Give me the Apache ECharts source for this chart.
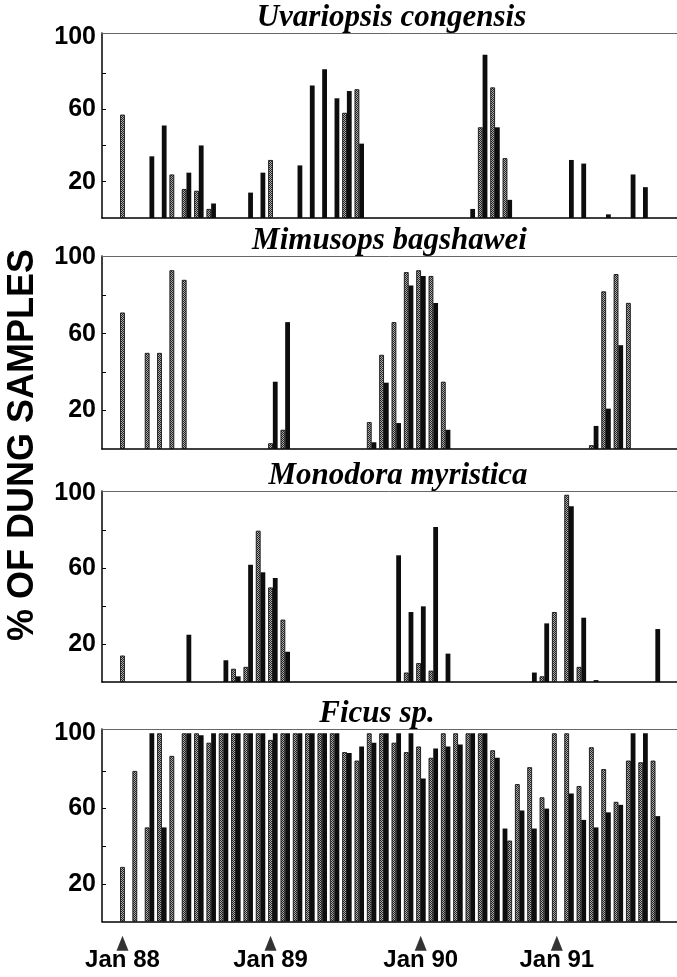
<!DOCTYPE html>
<html><head><meta charset="utf-8">
<script src="https://cdn.jsdelivr.net/npm/echarts@6/dist/echarts.min.js"></script>
<style>html,body{margin:0;padding:0;background:#fff}#c{width:677px;height:977px}</style>
</head><body><div id="c"></div>
<script>
// ---- DATA (x = month index, 0 = Jan 88; value = % of dung samples) ----
const uvaGray  = [[0,57],[4,24],[5,16],[6,15],[7,5],[12,32],[18,58],[19,71],[29,50],[30,72],[31,33]];
const uvaBlack = [[2,34],[3,51],[5,25],[6,40],[7,8],[10,14],[11,25],[14,29],[15,73],[16,82],[17,66],[18,70],[19,41],[28,5],[29,90],[30,50],[31,10],[36,32],[37,30],[39,2],[41,24],[42,17]];

const mimGray  = [[0,71],[2,50],[3,50],[4,93],[5,88],[12,3],[13,10],[20,14],[21,49],[22,66],[23,92],[24,93],[25,90],[26,35],[38,2],[39,82],[40,91],[41,76]];
const mimBlack = [[12,35],[13,66],[20,3.5],[21,34.5],[22,13.5],[23,85],[24,90],[25,76],[26,10],[38,12],[39,21],[40,54]];

const monGray  = [[0,14],[9,7],[10,8],[11,80],[12,50],[13,33],[23,5],[24,10],[25,6],[34,3],[35,37],[36,99],[37,8]];
const monBlack = [[5,25],[8,11.5],[9,3],[10,62],[11,58],[12,55],[13,16],[22,67],[23,37],[24,40],[25,82],[26,15],[33,5],[34,31],[36,93],[37,34],[38,1],[43,28]];

const ficGray  = [[0,29],[1,80],[2,50],[3,100],[4,88],[5,100],[6,100],[7,95],[8,100],[9,100],[10,100],[11,100],[12,96.5],[13,100],[14,100],[15,100],[16,100],[17,100],[18,90],[19,85.5],[20,100],[21,100],[22,95],[23,90],[24,93],[25,87],[26,100],[27,100],[28,100],[29,100],[30,91],[31.38,43],[32,73],[33,82],[34,66],[35,100],[36,100],[37,72],[38,92.6],[39,81],[40,63.6],[41,85.5],[42,84.6],[43,85.5]];
const ficBlack = [[2,100],[3,50],[5,100],[6,99],[7,100],[8,100],[9,100],[10,100],[11,100],[12,100],[13,100],[14,100],[15,100],[16,100],[17,100],[18,89.5],[19,93],[20,95],[21,100],[22,100],[23,100],[24,76],[25,92],[26,93],[27,94],[28,100],[29,100],[30,87],[30.62,49.4],[32,59],[33,49.4],[34,60],[36,68],[37,54],[38,50],[39,58],[40,62],[41,100],[42,100],[43,56]];

const titles = ['Uvariopsis congensis','Mimusops bagshawei','Monodora myristica','Ficus sp.'];
const yLabelValues = [20,60,100];
const yTickValues = [20,40,60,80];
const xLabelPos = [0,12,24.17,35.2];
const xLabels = ['Jan 88','Jan 89','Jan 90','Jan 91'];
const yAxisTitle = '% OF DUNG SAMPLES';

// ---- STYLE / LAYOUT ----
const BLACK_SHIFT = 0.38;
const X_MIN = -1.66, X_MAX = 44.94;
const layout = [
  {top:33,  bottom:218, ymax:102,   tx:391.5, ty:17.5},
  {top:256, bottom:449, ymax:100.4, tx:389.5, ty:240.5},
  {top:491, bottom:682, ymax:101,   tx:398,   ty:475.5},
  {top:729, bottom:921.5, ymax:102.3, tx:377, ty:713.5}
];
const seriesData = [[uvaGray,uvaBlack],[mimGray,mimBlack],[monGray,monBlack],[ficGray,ficBlack]];

const pc = document.createElement('canvas'); pc.width = 2; pc.height = 2;
const g = pc.getContext('2d');
g.fillStyle = '#b0b0b0'; g.fillRect(0,0,2,2);
g.fillStyle = '#222'; g.fillRect(0,0,1,1); g.fillRect(1,1,1,1);
const grayFill = {image: pc, repeat: 'repeat'};

const FONT_SANS = '"Liberation Sans", Arial, sans-serif';
const FONT_SERIF = '"Liberation Serif", "Times New Roman", serif';

const grid = [], xAxis = [], yAxis = [], series = [], graphic = [];
layout.forEach((p, i) => {
  grid.push({left:102, right:0, top:p.top, height:p.bottom - p.top});
  const last = i === layout.length - 1;
  xAxis.push({gridIndex:i, type:'value', min:X_MIN, max:X_MAX, position:'bottom',
    axisLine:{show:true, onZero:false, lineStyle:{color:'#000', width:1.5}},
    axisTick:{show:false}, splitLine:{show:false},
    axisLabel: last ? {show:true, customValues:xLabelPos, margin:27,
      formatter:(v)=>{ const k = xLabelPos.findIndex(q=>Math.abs(q-v)<1e-6); return k>=0 ? xLabels[k] : ''; },
      fontFamily:FONT_SANS, fontWeight:'bold', fontSize:24, color:'#000'} : {show:false}
  });
  // top frame line
  xAxis.push({gridIndex:i, type:'value', min:X_MIN, max:X_MAX, position:'top',
    axisLine:{show:true, onZero:false, lineStyle:{color:'#666', width:1}},
    axisTick:{show:false}, axisLabel:{show:false}, splitLine:{show:false}});
  yAxis.push({gridIndex:i, type:'value', min:0, max:p.ymax,
    axisLine:{show:true, onZero:false, lineStyle:{color:'#000', width:1.5}},
    axisTick:{show:true, inside:true, length:4, customValues:yTickValues, lineStyle:{color:'#000', width:1}},
    axisLabel:{show:true, customValues:yLabelValues, margin:6, fontFamily:FONT_SANS, fontWeight:'bold', fontSize:25, color:'#000'},
    splitLine:{show:false}
  });
  const [gr, bl] = seriesData[i];
  series.push({type:'bar', xAxisIndex:i*2, yAxisIndex:i, barWidth:4.8, barGap:'-100%',
    data: gr.map(([m,v]) => [m, v]),
    itemStyle:{color:grayFill, borderColor:'#111', borderWidth:0.9}, silent:true});
  series.push({type:'bar', xAxisIndex:i*2, yAxisIndex:i, barWidth:4.8, barGap:'-100%',
    data: bl.map(([m,v]) => [m + BLACK_SHIFT, v]),
    itemStyle:{color:'#0d0d0d'}, silent:true});
  graphic.push({type:'text', x:p.tx, y:p.ty, z:10,
    style:{text:titles[i], font:'italic bold 31px ' + FONT_SERIF, fill:'#000',
      align:'center', verticalAlign:'middle', textAlign:'center', textVerticalAlign:'middle'}});
});

series.push({type:'scatter', xAxisIndex:6, yAxisIndex:3, clip:false, silent:true,
  symbol:'triangle', symbolSize:[12,15], itemStyle:{color:'#000'},
  data: xLabelPos.map(x => [x, -11.5])});

graphic.push({type:'text', x:23, y:445, rotation:Math.PI/2, z:10,
  style:{text:yAxisTitle, font:'bold 36px ' + FONT_SANS, fill:'#000',
    align:'center', verticalAlign:'middle', textAlign:'center', textVerticalAlign:'middle'}});

const chart = echarts.init(document.getElementById('c'), null, {renderer:'canvas'});
chart.setOption({animation:false, backgroundColor:'#fff', grid, xAxis, yAxis, series, graphic});
</script></body></html>
